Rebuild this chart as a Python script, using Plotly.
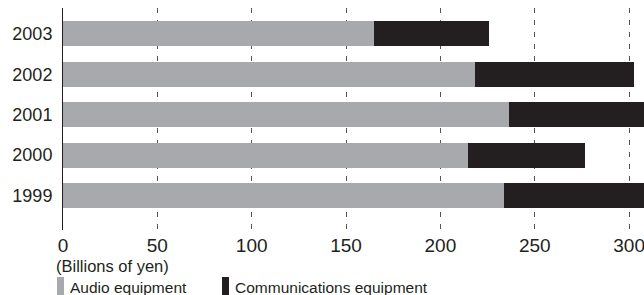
import plotly.graph_objects as go

years = ["1999", "2000", "2001", "2002", "2003"]
audio = [233.7, 214.6, 236.4, 218.3, 164.8]
communications = [91.0, 62.0, 96.0, 84.3, 60.8]
series_names = ["Audio equipment", "Communications equipment"]
series_colors = ["#a7a9ac", "#231f20"]
x_ticks = [0, 50, 100, 150, 200, 250, 300]
unit_label = "(Billions of yen)"

W, H = 644, 295
PL, PR, PT, PB = 63, 644, 8, 230
FONT = "Liberation Sans, Arial, sans-serif"
TXT = "#231f20"


def px_x(x):
    return (x - PL) / (PR - PL)


def px_y(y):
    return (PB - y) / (PB - PT)


fig = go.Figure()
for name, vals, col in zip(series_names, [audio, communications], series_colors):
    fig.add_trace(go.Bar(y=years, x=vals, orientation="h", name=name,
                         marker=dict(color=col, line=dict(width=0)),
                         showlegend=False))

fig.update_layout(
    width=W, height=H, barmode="stack", bargap=0.38,
    margin=dict(l=PL, r=W - PR, t=PT, b=H - PB, autoexpand=False),
    paper_bgcolor="white", plot_bgcolor="white",
    font=dict(family=FONT, color=TXT),
    xaxis=dict(range=[0, 307.9], tickvals=x_ticks, ticktext=[str(v) for v in x_ticks],
               showgrid=True, gridcolor="#555555", gridwidth=1, griddash="5px,7px",
               zeroline=False, showline=False, ticks="", automargin=False,
               ticklabeloverflow="allow",
               tickfont=dict(size=19, color=TXT), ticklabelstandoff=2),
    yaxis=dict(type="category", categoryorder="array", categoryarray=years,
               range=[-0.854, 4.64], showgrid=False, zeroline=False,
               showline=True, linecolor=TXT, linewidth=1, ticks="", automargin=False,
               tickfont=dict(size=18, color=TXT), ticklabelstandoff=6),
)

# unit label
fig.add_annotation(text=unit_label, xref="paper", yref="paper",
                   x=px_x(54), y=px_y(265.5),
                   xanchor="left", yanchor="middle", showarrow=False,
                   font=dict(size=16.5, color=TXT, family=FONT))

# manual legend
leg_x = [57, 222]
for lx, name, col in zip(leg_x, series_names, series_colors):
    fig.add_shape(type="rect", xref="paper", yref="paper",
                  x0=px_x(lx), x1=px_x(lx + 7),
                  y0=px_y(300), y1=px_y(277),
                  fillcolor=col, line=dict(width=0))
    fig.add_annotation(text=name, xref="paper", yref="paper",
                       x=px_x(lx + 11), y=px_y(276.5),
                       xanchor="left", yanchor="top", showarrow=False,
                       font=dict(size=15.5, color=TXT, family=FONT))

fig.write_html("out.html", config={"displayModeBar": False},
               post_script="document.body.style.margin='0';document.body.style.overflow='hidden';")
